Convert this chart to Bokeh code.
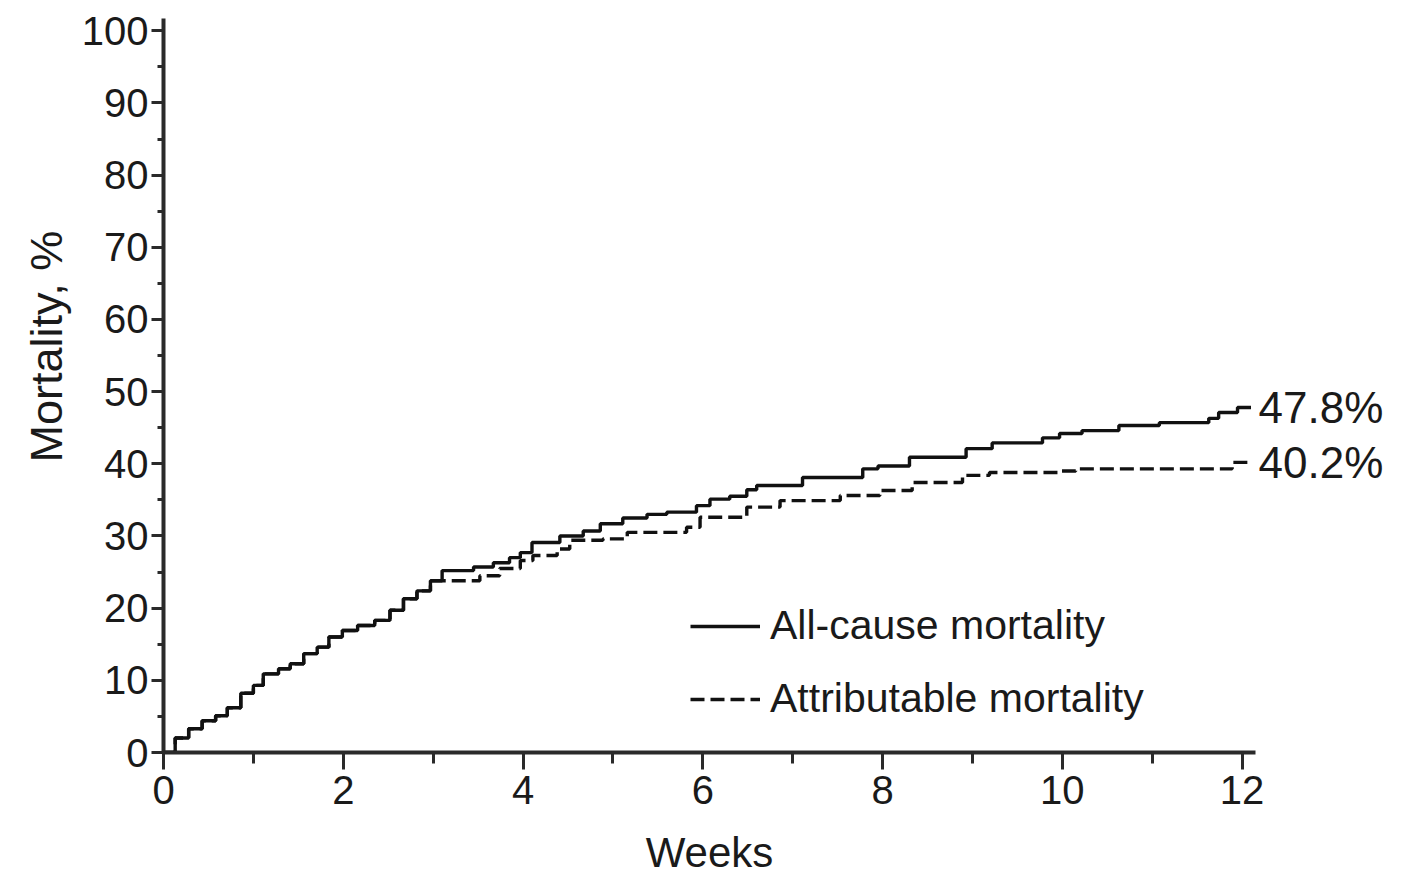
from bokeh.plotting import figure
from bokeh.models import (SingleIntervalTicker, FixedTicker, Range1d, Title, LinearAxis,
                          PrintfTickFormatter)
from bokeh.embed import file_html
from bokeh.resources import INLINE

# Weeks at which each step starts, and cumulative mortality (%) after the step
all_t = [0, 0.13, 0.28, 0.43, 0.58, 0.71, 0.86, 1.0, 1.11, 1.28, 1.41, 1.56, 1.71, 1.84, 1.99,
         2.16, 2.35, 2.52, 2.67, 2.82, 2.97, 3.1, 3.45, 3.67, 3.85, 3.97, 4.1, 4.41, 4.67, 4.86,
         5.11, 5.38, 5.6, 5.93, 6.08, 6.3, 6.49, 6.6, 7.11, 7.78, 7.95, 8.3, 8.93, 9.22, 9.78,
         9.97, 10.22, 10.63, 11.08, 11.63, 11.74, 11.95, 12.1]
all_v = [0, 2.0, 3.3, 4.4, 5.1, 6.2, 8.2, 9.3, 10.9, 11.6, 12.3, 13.7, 14.6, 16.0, 16.9,
         17.6, 18.3, 19.7, 21.3, 22.4, 23.8, 25.2, 25.7, 26.3, 27.0, 27.7, 29.1, 30.0, 30.7, 31.7,
         32.5, 33.0, 33.3, 34.2, 35.1, 35.5, 36.4, 37.0, 38.1, 39.3, 39.7, 40.9, 42.1, 42.9, 43.6,
         44.2, 44.6, 45.3, 45.7, 46.3, 47.1, 47.8, 47.8]

attr_t = [0, 0.13, 0.28, 0.43, 0.58, 0.71, 0.86, 1.0, 1.11, 1.28, 1.41, 1.56, 1.71, 1.84, 1.99,
          2.16, 2.35, 2.52, 2.67, 2.82, 2.97, 3.52, 3.74, 3.97, 4.11, 4.38, 4.52, 4.89, 5.16,
          5.82, 5.97, 6.49, 6.86, 7.53, 7.97, 8.33, 8.89, 9.19, 9.97, 10.15, 11.89, 12.1]
attr_v = [0, 2.0, 3.3, 4.4, 5.1, 6.2, 8.2, 9.3, 10.9, 11.6, 12.3, 13.7, 14.6, 16.0, 16.9,
          17.6, 18.3, 19.7, 21.3, 22.4, 23.8, 24.5, 25.5, 26.6, 27.3, 28.2, 29.4, 29.6, 30.5,
          31.2, 32.6, 34.0, 34.9, 35.6, 36.3, 37.4, 38.4, 38.8, 39.0, 39.3, 40.2, 40.2]

x_ticks_major = 2
y_ticks_major = 10
end_values = [all_v[-1], attr_v[-1]]

FONT = "Liberation Sans"
INK = "#1a1a1a"

p = figure(width=1404, height=878, output_backend="svg", toolbar_location=None,
           x_range=Range1d(0, 12.15), y_range=Range1d(0, 101.7),
           min_border_left=163, min_border_right=149, min_border_top=18, min_border_bottom=126)
p.outline_line_color = None
p.xgrid.grid_line_color = None
p.ygrid.grid_line_color = None
p.background_fill_color = "white"

p.step(all_t, all_v, mode="after", line_color="#111111", line_width=3.4,
       legend_label="All-cause mortality")
p.step(attr_t, attr_v, mode="after", line_color="#111111", line_width=3.4,
       line_dash="14 6", legend_label="Attributable mortality")

p.xaxis.ticker = SingleIntervalTicker(interval=x_ticks_major, num_minor_ticks=2)
p.yaxis.ticker = SingleIntervalTicker(interval=y_ticks_major, num_minor_ticks=2)

for ax in (p.xaxis[0], p.yaxis[0]):
    ax.axis_line_width = 4
    ax.axis_line_color = "#2a2a2a"
    ax.major_tick_line_width = 3
    ax.minor_tick_line_width = 3
    ax.major_tick_line_color = "#2a2a2a"
    ax.minor_tick_line_color = "#2a2a2a"
    ax.major_tick_in = 0
    ax.minor_tick_in = 0
    ax.major_label_text_font = FONT
    ax.major_label_text_font_size = "40px"
    ax.major_label_text_color = INK

p.xaxis.major_tick_out = 17
p.xaxis.minor_tick_out = 11
p.yaxis.major_tick_out = 12
p.yaxis.minor_tick_out = 6
p.xaxis.major_label_standoff = 6
p.yaxis.major_label_standoff = 3

p.xaxis.axis_label = "Weeks"
p.xaxis.axis_label_standoff = 22
p.xaxis.axis_label_text_font = FONT
p.xaxis.axis_label_text_font_size = "42px"
p.xaxis.axis_label_text_font_style = "normal"
p.xaxis.axis_label_text_color = INK

# y title off-centre like the reference
ytitle = Title(text="Mortality, %", align="left", offset=290, standoff=14,
               text_font=FONT, text_font_size="45px", text_font_style="normal",
               text_color=INK)
p.add_layout(ytitle, "left")

# end-of-curve percentages on an unlined right axis
rax = LinearAxis(ticker=FixedTicker(ticks=end_values),
                 formatter=PrintfTickFormatter(format="%.1f%%"))
rax.axis_line_color = None
rax.major_tick_line_color = None
rax.minor_tick_line_color = None
rax.major_tick_out = 0
rax.major_tick_in = 0
rax.major_label_standoff = 3
rax.major_label_text_font = FONT
rax.major_label_text_font_size = "44px"
rax.major_label_text_color = INK
p.add_layout(rax, "right")

lg = p.legend[0]
lg.location = (527, 30)
lg.border_line_color = None
lg.background_fill_alpha = 0
lg.padding = 0
lg.margin = 0
lg.spacing = 26
lg.glyph_width = 70
lg.glyph_height = 40
lg.label_height = 40
lg.label_standoff = 10
lg.label_text_font = FONT
lg.label_text_font_size = "41px"
lg.label_text_color = INK

open("out.html", "w").write(file_html(p, INLINE))
